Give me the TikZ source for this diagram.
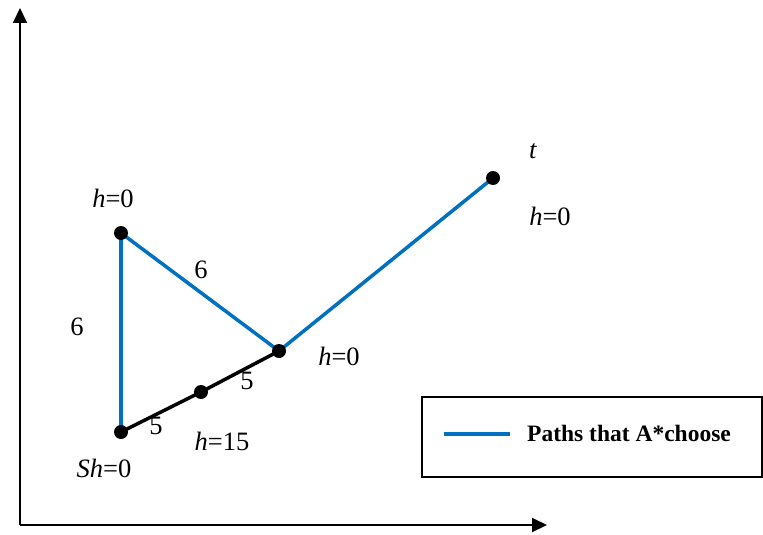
\documentclass[tikz,border=0pt]{standalone}
\usepackage{fontspec}
\setmainfont{Liberation Serif}
\usetikzlibrary{arrows.meta}
\definecolor{pathblue}{RGB}{0,112,192}
\begin{document}
\begin{tikzpicture}[x={(1pt,0)},y={(0,-1pt)},
  dot/.style={circle,fill=black,inner sep=0pt,minimum size=14pt},
  bluepath/.style={draw=pathblue,line width=3.5pt},
  blackpath/.style={draw=black,line width=3.5pt},
  axis/.style={draw=black,line width=2pt,-{Triangle[length=15pt,width=14pt]}},
  lbl/.style={font=\fontsize{26.5}{28}\selectfont,inner sep=0pt},
  legendbox/.style={draw=black,line width=1.5pt}]
\useasboundingbox (0,0) rectangle (763,535);
% axes
\coordinate (o) at (20,525);
\coordinate (ytop) at (20,8);
\coordinate (xend) at (547,525);
\draw[axis] (o) -- (ytop);
\draw[axis] (o) -- (xend);
% nodes
\coordinate (A) at (121,233);
\coordinate (S) at (121,432);
\coordinate (M) at (201,392);
\coordinate (C) at (279,351);
\coordinate (T) at (493,178);
\draw[bluepath] (A) -- (S);
\draw[bluepath] (A) -- (C);
\draw[bluepath] (C) -- (T);
\draw[blackpath] (S) -- (M) -- (C);
\node[dot] (nA) at (A) {};
\node[dot] (nS) at (S) {};
\node[dot] (nM) at (M) {};
\node[dot] (nC) at (C) {};
\node[dot] (nT) at (T) {};
% labels
\node[lbl] (l1) at (113,198) {\textit{h}=0};
\node[lbl] (l2) at (77,327) {6};
\node[lbl] (l3) at (201,270) {6};
\node[lbl] (l4) at (247,381) {5};
\node[lbl] (l5) at (156,426) {5};
\node[lbl] (l6) at (222,441) {\textit{h}=15};
\node[lbl] (l7) at (104,468) {\textit{Sh}=0};
\node[lbl] (l8) at (339,356) {\textit{h}=0};
\node[lbl] (l9) at (533,151) {\textit{t}};
\node[lbl] (l10) at (550,216) {\textit{h}=0};
% legend
\draw[legendbox] (422,397) rectangle (762,477);
\coordinate (lg1) at (444,434);
\coordinate (lg2) at (510,434);
\draw[bluepath] (lg1) -- (lg2);
\node[anchor=west,inner sep=0pt,font=\fontsize{23.5}{26}\selectfont\bfseries] (legtxt) at (527,433) {Paths that A*choose};
\end{tikzpicture}
\end{document}
